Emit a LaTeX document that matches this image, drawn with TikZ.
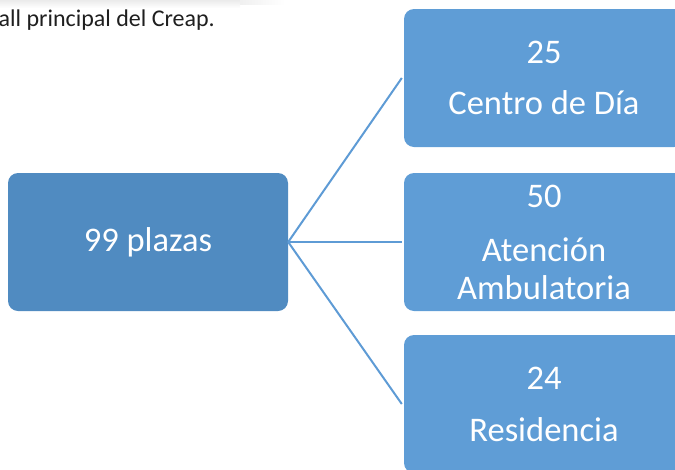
\documentclass[tikz,border=0pt]{standalone}
\usepackage{fontspec}
\setmainfont{Carlito}
\usetikzlibrary{positioning}

\definecolor{hubblue}{HTML}{508BC1}
\definecolor{leafblue}{HTML}{5F9DD6}
\definecolor{linkblue}{HTML}{5E9BD5}

\begin{document}
\begin{tikzpicture}[x=1pt,y=-1pt]
  \tikzstyle{box}=[rounded corners=10pt,minimum width=280pt,minimum height=138pt,
    inner sep=0pt,align=center,text=white,font=\fontsize{34.5}{38}\selectfont]
  \tikzstyle{link}=[draw=linkblue,line width=2pt]

  \useasboundingbox (0,0) rectangle (675,469);
  \clip (0,0) rectangle (675,469);

  % faint shadow at the top edge
  \shade[top color=black!8,bottom color=white] (0,0) rectangle (240,8);
  \shade[left color=black!6,right color=white] (240,0) rectangle (285,4);

  \node[anchor=base east,inner sep=0pt,text=black!88,font=\fontsize{24}{27}\selectfont]
    (caption) at (215,26) {all principal del Creap.};

  \node[box,fill=hubblue] (hub) at (148,242) {99 plazas};

  \node[box,fill=leafblue] (dia) at (544,78) {25\\[13pt]Centro de Día};
  \node[box,fill=leafblue] (amb) at (544,242) {50\\[16pt]Atención\\Ambulatoria};
  \node[box,fill=leafblue] (res) at (544,404) {24\\[14pt]Residencia};

  \draw[link] (hub.east) -- ([xshift=-2pt]dia.west);
  \draw[link] (hub.east) -- ([xshift=-2pt]amb.west);
  \draw[link] (hub.east) -- ([xshift=-2pt]res.west);
\end{tikzpicture}
\end{document}
